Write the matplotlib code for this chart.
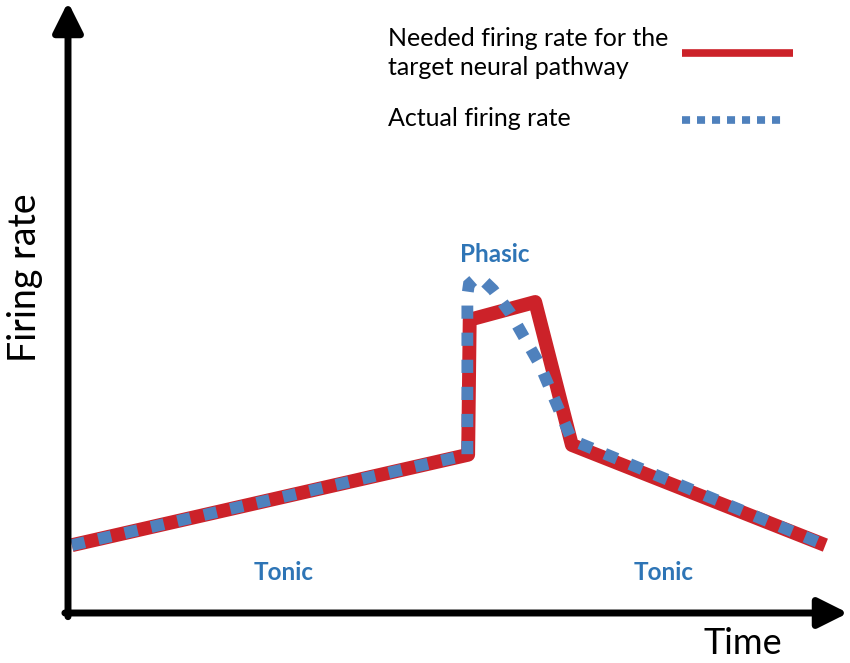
import matplotlib
matplotlib.use('Agg')
import matplotlib.pyplot as plt
from matplotlib.lines import Line2D

plt.rcParams['font.family'] = ['Lato', 'DejaVu Sans']
plt.rcParams['lines.scale_dashes'] = False

# schematic data (arbitrary units, 0-100 on both axes)
needed_t = [0.5, 51.3, 51.5, 59.9, 64.6, 97.1]
needed_rate = [11.1, 25.9, 48.0, 50.9, 27.5, 11.1]

actual_t = [0.5, 51.2, 51.2, 51.4, 52.2, 53.2, 54.5, 56.7, 60.5, 64.6, 97.1]
actual_rate = [11.1, 25.9, 52.0, 53.8, 54.7, 54.5, 52.9, 49.1, 40.6, 28.3, 11.1]

legend_labels = ['Needed firing rate for the\ntarget neural pathway', 'Actual firing rate']

RED = '#CC2229'
BLUE = '#4F81BD'
TEXT_BLUE = '#2E75B6'

W, H = 850, 663
fig = plt.figure(figsize=(W / 100, H / 100), dpi=100)
ax = fig.add_axes([68 / W, 50 / H, 780 / W, 611 / H])
ax.set_xlim(0, 100)
ax.set_ylim(0, 100)
ax.axis('off')

ax.plot(needed_t, needed_rate, color=RED, lw=10, solid_joinstyle='round',
        solid_capstyle='butt', zorder=2)
ax.plot(actual_t, actual_rate, color=BLUE, lw=8.5, dashes=(9.5, 10),
        dash_capstyle='butt', dash_joinstyle='miter', zorder=3)

# axes arrows
arrow = dict(arrowstyle='-|>,head_length=0.9,head_width=0.45', lw=5, color='black',
             shrinkA=0, shrinkB=0, mutation_scale=20)
ax.annotate('', xy=(1, 0), xytext=(-0.004, 0), xycoords='axes fraction',
            arrowprops=arrow, annotation_clip=False)
ax.annotate('', xy=(0, 1), xytext=(0, -0.006), xycoords='axes fraction',
            arrowprops=arrow, annotation_clip=False)

fig.text(25 / W, 1 - 278 / H, 'Firing rate', rotation=90, fontsize=27,
         ha='center', va='center')
fig.text(743 / W, 1 - 644 / H, 'Time', fontsize=26, ha='center', va='center')

ax.text(27.7, 6.7, 'Tonic', color=TEXT_BLUE, fontsize=17.5, fontweight='bold',
        ha='center', va='center')
ax.text(76.3, 6.7, 'Tonic', color=TEXT_BLUE, fontsize=17.5, fontweight='bold',
        ha='center', va='center')
ax.text(54.7, 58.6, 'Phasic', color=TEXT_BLUE, fontsize=17.5, fontweight='bold',
        ha='center', va='center')

# legend, text left of the sample lines
fig.text(388 / W, 1 - 53 / H, legend_labels[0], fontsize=18, ha='left', va='center',
         linespacing=1.35)
fig.text(388 / W, 1 - 119 / H, legend_labels[1], fontsize=18, ha='left', va='center')
fig.add_artist(Line2D([682 / W, 793 / W], [1 - 53 / H, 1 - 53 / H], color=RED, lw=5.5,
                      solid_capstyle='butt', transform=fig.transFigure))
fig.add_artist(Line2D([682 / W, 787 / W], [1 - 120 / H, 1 - 120 / H], color=BLUE, lw=5.5,
                      dashes=(5.8, 5), dash_capstyle='butt', transform=fig.transFigure))

fig.savefig('out.png', dpi=100)
